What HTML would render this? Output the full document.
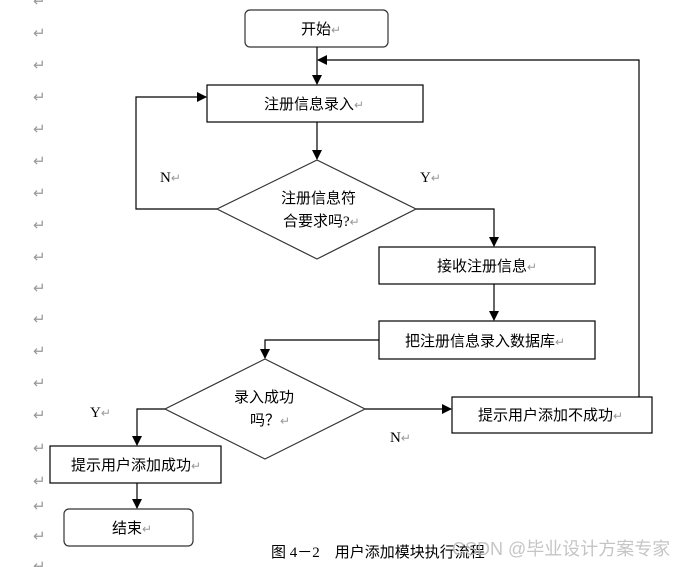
<!DOCTYPE html>
<html><head><meta charset="utf-8"><style>
body{margin:0;background:#fff;}
svg{display:block;}
text{font-family:"Liberation Serif","Noto Sans CJK SC",serif;}
.c{font-family:"Liberation Sans","Noto Sans CJK SC",sans-serif;font-size:15px;fill:#000;}
.r{fill:#999;font-size:12px;font-family:"Liberation Sans","Noto Sans CJK SC",sans-serif;}
.l{fill:#999;font-size:15px;font-family:"DejaVu Sans",sans-serif;}
</style></head><body>
<svg width="693" height="567" viewBox="0 0 693 567" xmlns="http://www.w3.org/2000/svg">
<defs><marker id="a" markerWidth="10" markerHeight="10" refX="9" refY="5" orient="auto" markerUnits="userSpaceOnUse"><path d="M0,0 L10,5 L0,10 Z" fill="#000"/></marker></defs>
<g class="l">
<text x="33" y="6">↵</text><text x="33" y="38">↵</text><text x="33" y="70">↵</text><text x="33" y="102">↵</text><text x="33" y="134">↵</text><text x="33" y="166">↵</text><text x="33" y="198">↵</text><text x="33" y="230">↵</text><text x="33" y="262">↵</text><text x="33" y="293">↵</text><text x="33" y="324">↵</text><text x="33" y="356">↵</text><text x="33" y="388">↵</text><text x="33" y="420">↵</text><text x="33" y="453">↵</text><text x="33" y="486">↵</text><text x="33" y="511">↵</text><text x="33" y="541">↵</text><text x="33" y="571">↵</text>
</g>
<g fill="none" stroke="#000" stroke-width="1.2">
<rect x="245" y="10" width="143" height="37" rx="5" stroke="#333"/>
<rect x="207" y="85" width="216" height="37"/>
<polygon points="317,160 416,209 317,259 217,209" stroke="#333"/>
<rect x="379" y="247" width="216" height="37"/>
<rect x="379" y="321" width="216" height="38"/>
<polygon points="265,359 365,409 265,459 165,409" stroke="#333"/>
<rect x="50" y="446" width="171" height="37"/>
<rect x="64" y="509" width="129" height="37" rx="5" stroke="#333"/>
<rect x="452" y="397" width="200" height="36"/>
<line x1="317" y1="47" x2="317" y2="84" marker-end="url(#a)"/>
<polyline points="639,397 639,60 318,60" marker-end="url(#a)"/>
<line x1="317" y1="122" x2="317" y2="159" marker-end="url(#a)"/>
<polyline points="217,209 136,209 136,97 206,97" marker-end="url(#a)"/>
<polyline points="416,209 494,209 494,246" marker-end="url(#a)"/>
<line x1="494" y1="284" x2="494" y2="320" marker-end="url(#a)"/>
<polyline points="379,340 265,340 265,358" marker-end="url(#a)"/>
<polyline points="165,409 137,409 137,445" marker-end="url(#a)"/>
<line x1="137" y1="483" x2="137" y2="508" marker-end="url(#a)"/>
<line x1="365" y1="409" x2="451" y2="409" marker-end="url(#a)"/>
</g>
<g class="c">
<text x="301" y="34">开始<tspan class="r">↵</tspan></text>
<text x="264" y="109">注册信息录入<tspan class="r">↵</tspan></text>
<text x="281" y="203">注册信息符</text>
<text x="283" y="226">合要求吗?<tspan class="r">↵</tspan></text>
<text x="437" y="271">接收注册信息<tspan class="r">↵</tspan></text>
<text x="405" y="346">把注册信息录入数据库<tspan class="r">↵</tspan></text>
<text x="234" y="402">录入成功</text>
<text x="250" y="425">吗？<tspan class="r">↵</tspan></text>
<text x="71" y="470">提示用户添加成功<tspan class="r">↵</tspan></text>
<text x="112" y="533">结束<tspan class="r">↵</tspan></text>
<text x="478" y="420">提示用户添加不成功<tspan class="r">↵</tspan></text>
<text x="271" y="557">图 4－2　用户添加模块执行流程</text>
</g>
<g style="font-family:'Liberation Serif',serif;font-size:15px">
<text x="160" y="182">N<tspan class="r">↵</tspan></text>
<text x="420" y="182">Y<tspan class="r">↵</tspan></text>
<text x="90" y="417">Y<tspan class="r">↵</tspan></text>
<text x="390" y="442">N<tspan class="r">↵</tspan></text>
</g>
<text x="452" y="555" style="font-family:'Liberation Sans','Noto Sans CJK SC',sans-serif;font-size:18px;fill:#bbb;opacity:0.85">CSDN @毕业设计方案专家</text>
</svg>
</body></html>
